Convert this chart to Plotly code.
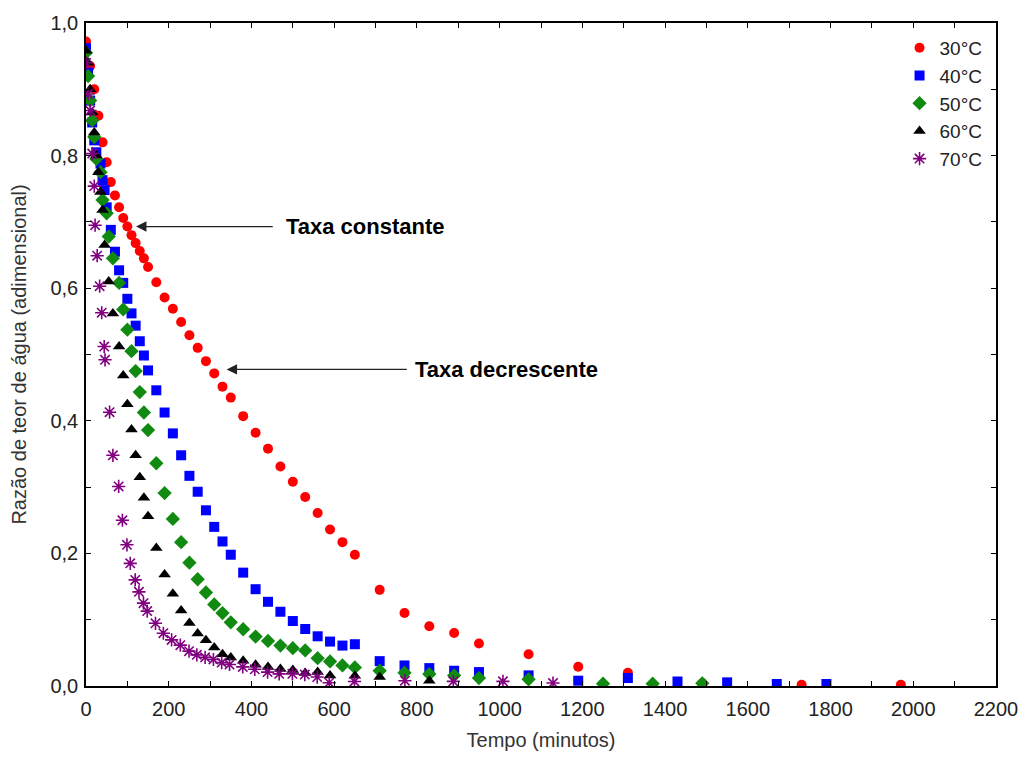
import plotly.graph_objects as go

# Drying curves: moisture ratio vs time at five air temperatures
t_30 = [0, 10, 20, 30, 40, 50, 60, 70, 80, 90, 100, 110, 120, 130, 140, 150, 170, 190, 210, 230,
        250, 270, 290, 310, 330, 350, 380, 410, 440, 470, 500, 530, 560, 590, 620, 650, 710, 770,
        830, 890, 950, 1070, 1190, 1310, 1490, 1730, 1970]
mr_30 = [0.972, 0.935, 0.900, 0.860, 0.820, 0.790, 0.760, 0.740, 0.722, 0.706, 0.693, 0.680, 0.668,
         0.656, 0.645, 0.632, 0.609, 0.586, 0.569, 0.549, 0.529, 0.510, 0.490, 0.4715, 0.4515, 0.435,
         0.407, 0.382, 0.358, 0.331, 0.308, 0.285, 0.261, 0.236, 0.217, 0.198, 0.145, 0.110, 0.090,
         0.080, 0.064, 0.048, 0.029, 0.020, 0.004, 0.002, 0.002]

t_40 = [0, 5, 10, 15, 20, 25, 35, 40, 45, 50, 60, 70, 80, 90, 100, 110, 120, 130, 140, 150, 170,
        190, 210, 230, 250, 270, 290, 310, 330, 350, 380, 410, 440, 470, 500, 530, 560, 590, 620,
        650, 710, 770, 830, 890, 950, 1070, 1190, 1310, 1430, 1550, 1670, 1790]
mr_40 = [0.962, 0.925, 0.883, 0.850, 0.823, 0.805, 0.788, 0.763, 0.748, 0.722, 0.688, 0.655, 0.627,
         0.608, 0.584, 0.562, 0.5435, 0.520, 0.4985, 0.476, 0.446, 0.4125, 0.381, 0.348, 0.317,
         0.293, 0.265, 0.240, 0.218, 0.198, 0.171, 0.146, 0.127, 0.112, 0.098, 0.086, 0.075, 0.067,
         0.061, 0.063, 0.0375, 0.031, 0.027, 0.023, 0.021, 0.016, 0.008, 0.012, 0.0068, 0.0055,
         0.003, 0.003]

t_50 = [0, 5, 10, 15, 20, 25, 35, 40, 50, 55, 65, 80, 90, 100, 110, 120, 130, 140, 150, 170, 190,
        210, 230, 250, 270, 290, 310, 330, 350, 380, 410, 440, 470, 500, 530, 560, 590, 620, 650,
        710, 770, 830, 890, 950, 1070, 1250, 1370, 1490]
mr_50 = [0.955, 0.920, 0.883, 0.853, 0.828, 0.795, 0.775, 0.733, 0.713, 0.678, 0.645, 0.608, 0.568,
         0.5375, 0.505, 0.475, 0.4434, 0.4125, 0.386, 0.336, 0.291, 0.252, 0.217, 0.186, 0.161,
         0.141, 0.123, 0.110, 0.096, 0.0856, 0.0746, 0.068, 0.061, 0.057, 0.0536, 0.042, 0.037,
         0.031, 0.028, 0.023, 0.020, 0.018, 0.016, 0.012, 0.010, 0.0035, 0.0035, 0.004]

t_60 = [0, 5, 10, 15, 20, 25, 30, 35, 40, 45, 55, 65, 80, 90, 100, 110, 120, 130, 140, 150, 170,
        190, 210, 230, 250, 270, 290, 310, 330, 350, 380, 410, 440, 470, 500, 530, 560, 590, 650,
        710, 830]
mr_60 = [0.958, 0.940, 0.900, 0.865, 0.835, 0.800, 0.775, 0.745, 0.718, 0.665, 0.610, 0.562, 0.512,
         0.4685, 0.425, 0.387, 0.348, 0.315, 0.284, 0.256, 0.208, 0.168, 0.139, 0.114, 0.095,
         0.079, 0.069, 0.058, 0.048, 0.043, 0.038, 0.032, 0.0285, 0.0255, 0.024, 0.0195, 0.021,
         0.016, 0.0155, 0.0135, 0.008]

t_70 = [0, 5, 10, 15, 20, 22, 27, 33, 38, 44, 46, 57, 65, 79, 88, 99, 107, 119, 128, 139, 148, 168,
        187, 207, 228, 249, 268, 288, 308, 328, 347, 379, 408, 439, 467, 499, 529, 559, 588, 649,
        771, 888, 1008, 1129]
mr_70 = [0.940, 0.893, 0.868, 0.803, 0.754, 0.695, 0.649, 0.603, 0.563, 0.512, 0.492, 0.413, 0.348,
         0.301, 0.250, 0.213, 0.185, 0.160, 0.142, 0.125, 0.113, 0.0946, 0.0796, 0.0695, 0.0616,
         0.0526, 0.047, 0.0432, 0.040, 0.0353, 0.0324, 0.0288, 0.0252, 0.021, 0.0183, 0.0183,
         0.0173, 0.0135, 0.005, 0.0068, 0.008, 0.007, 0.007, 0.0045]

series_names = ["30°C", "40°C", "50°C", "60°C", "70°C"]

x_ticks = list(range(0, 2201, 100))
x_labels = [str(v) if v % 200 == 0 else "" for v in x_ticks]
y_ticks = [i / 10 for i in range(11)]
y_labels = [f"{v:.1f}".replace(".", ",") if i % 2 == 0 else "" for i, v in enumerate(y_ticks)]

FONT = "Liberation Sans, Arial, sans-serif"

styles = [
    dict(symbol="circle", size=10, color="#ff0000"),
    dict(symbol="square", size=10, color="#0000ff"),
    dict(symbol="diamond", size=11, color="#118a11"),
    dict(symbol="triangle-up", size=11, color="#000000"),
    dict(symbol="asterisk-open", size=11, color="#800080", line=dict(color="#800080", width=1.6)),
]

fig = go.Figure()
for name, xs, ys, st in zip(series_names,
                            [t_30, t_40, t_50, t_60, t_70],
                            [mr_30, mr_40, mr_50, mr_60, mr_70],
                            styles):
    fig.add_trace(go.Scatter(x=xs, y=ys, mode="markers", name=name, marker=st))

axis_common = dict(
    showline=True, linecolor="black", linewidth=1.5, mirror="ticks",
    ticks="inside", ticklen=5, tickwidth=1, tickcolor="black",
    showgrid=False, zeroline=False,
    tickfont=dict(family=FONT, size=20, color="#222"),
    tickmode="array",
)

fig.update_layout(
    width=1030, height=760,
    margin=dict(l=86, r=26, t=22, b=72),
    paper_bgcolor="white", plot_bgcolor="white",
    font=dict(family=FONT, color="#222"),
    xaxis=dict(range=[0, 2200], tickvals=x_ticks, ticktext=x_labels, ticklabelstandoff=4,
               title=dict(text="Tempo (minutos)", font=dict(size=20, color="#333"), standoff=14),
               **axis_common),
    yaxis=dict(range=[0, 1.0], tickvals=y_ticks, ticktext=y_labels, ticklabelstandoff=2,
               title=dict(text="Razão de teor de água (adimensional)", font=dict(size=20, color="#333"),
                          standoff=18),
               **axis_common),
    legend=dict(x=0.894, y=0.991, xanchor="left", yanchor="top",
                font=dict(size=19, color="#222"), bgcolor="rgba(0,0,0,0)",
                itemsizing="trace", tracegroupgap=0),
    showlegend=True,
)

# Arrows marking the two drying periods
arrow_style = dict(showarrow=True, arrowhead=2, arrowsize=1.6, arrowwidth=1.3, arrowcolor="#222",
                   axref="x", ayref="y", text="")
fig.add_annotation(x=121, y=0.693, ax=455, ay=0.693, **arrow_style)
fig.add_annotation(x=340, y=0.4775, ax=779, ay=0.4775, **arrow_style)

label_font = dict(family=FONT, size=22, color="black")
fig.add_annotation(x=479, y=0.693, text="<b>Taxa constante</b>", showarrow=False,
                   xanchor="left", yanchor="middle", font=label_font)
fig.add_annotation(x=791, y=0.4775, text="<b>Taxa decrescente</b>", showarrow=False,
                   xanchor="left", yanchor="middle", font=label_font)

fig.write_html("out.html")
